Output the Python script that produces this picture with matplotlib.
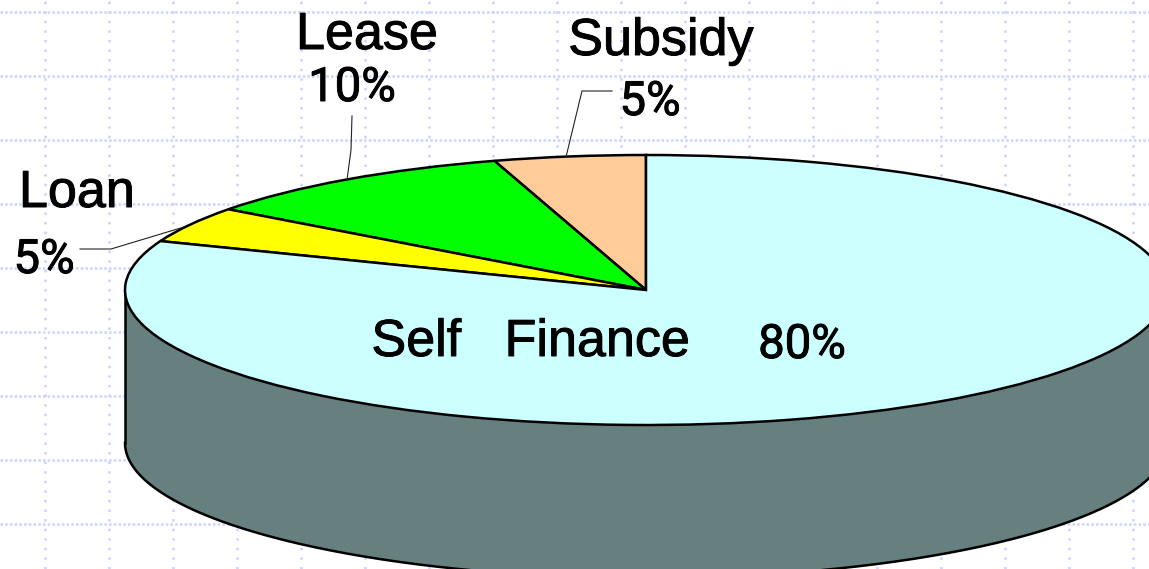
import numpy as np
import matplotlib
matplotlib.use('Agg')
import matplotlib.pyplot as plt
import matplotlib.patheffects as pe

W, H = 1149, 569

# order is counterclockwise from 12 o'clock, as drawn
categories = ['Subsidy', 'Lease', 'Loan', 'Self Finance']
shares = [4.7, 10.1, 4.3, 80.9]
percent_labels = ['5%', '10%', '5%', '80%']
colors = ['#FFCC99', '#00FF00', '#FFFF00', '#CCFFFF']
wall_color = '#668080'
grid_color = '#C8D4FF'

# ellipse in pixels
cx, cy, rx, ry, depth = 646, 290, 521, 135, 153


def fx(px):
    return px / W


def fy(py):
    return 1 - py / H


plt.rcParams['lines.scale_dashes'] = False
fig = plt.figure(figsize=(W / 100, H / 100), dpi=100, facecolor='white')

# dotted background grid
bg = fig.add_axes([0, 0, 1, 1], zorder=0)
bg.set_xlim(0, W)
bg.set_ylim(H, 0)
bg.axis('off')
for x in range(45, W, 64):
    bg.axvline(x, color=grid_color, lw=1.8, ls=(0, (1.8, 5.1)))
for y in range(12, H, 64):
    bg.axhline(y, color=grid_color, lw=1.8, ls=(0, (1.8, 1.6)))

ax = fig.add_axes([0, 0, 1, 1], zorder=1)
ax.patch.set_alpha(0)
ax.pie(shares, colors=colors, startangle=90, counterclock=True, radius=1,
       wedgeprops=dict(edgecolor='black', linewidth=1.8))
ax.set_aspect('auto')
ax.set_xlim(-cx / rx, (W - cx) / rx)
ax.set_ylim((cy - H) / ry, cy / ry)

# side wall
t = np.linspace(np.pi, 2 * np.pi, 400)
ex, ey = np.cos(t), np.sin(t)
d = depth / ry
ax.fill_between(ex, ey, ey - d, color=wall_color, lw=0, zorder=0.5)
ax.plot(ex, ey - d, color='black', lw=1.8, zorder=0.6)
ax.plot([-1, -1], [0, -d], color='black', lw=1.8, zorder=0.6)
ax.plot([1, 1], [0, -d], color='black', lw=1.8, zorder=0.6)

# labels
heavy = [pe.withStroke(linewidth=0.7, foreground='black')]
word = dict(family='Liberation Sans', fontsize=37.5, color='black', ha='center', va='baseline',
            path_effects=heavy, zorder=3)
pct = dict(family='Roboto', fontsize=34, color='black', ha='center', va='baseline',
           path_effects=heavy, zorder=3)
fig.text(fx(367), fy(49), categories[1], **word)
fig.text(fx(352), fy(101), percent_labels[1], **pct)
fig.text(fx(661), fy(55), categories[0], **word)
fig.text(fx(650), fy(115), percent_labels[0], **pct)
fig.text(fx(77), fy(207), categories[2], **word)
fig.text(fx(44), fy(273), percent_labels[2], **pct)
fig.text(fx(531), fy(356), 'Self   Finance', **word)
fig.text(fx(802), fy(358), percent_labels[3], **pct)

# leader lines
leaders = [
    ([352, 351, 347], [116, 150, 180]),
    ([612, 582, 566], [91, 91, 157]),
    ([80, 111, 184], [249, 249, 227]),
]
for xs, ys in leaders:
    fig.add_artist(plt.Line2D([fx(v) for v in xs], [fy(v) for v in ys], color='#222222', lw=0.8, zorder=3))

fig.savefig('out.png', dpi=100)
